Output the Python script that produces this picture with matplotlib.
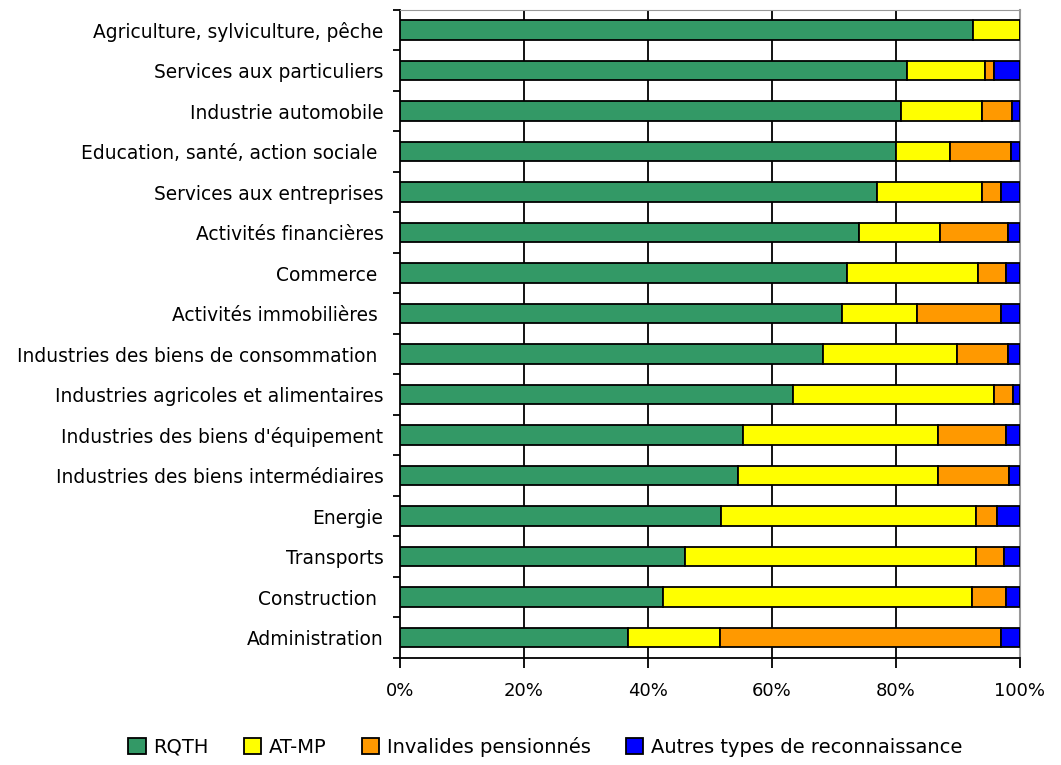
import matplotlib.pyplot as plt
import numpy as np
from matplotlib.ticker import FixedLocator, FuncFormatter

plt.rcParams['font.family'] = ['DejaVu Sans']

secteurs = [
    'Agriculture, sylviculture, pêche',
    'Services aux particuliers',
    'Industrie automobile',
    'Education, santé, action sociale ',
    'Services aux entreprises',
    'Activités financières',
    'Commerce ',
    'Activités immobilières ',
    'Industries des biens de consommation ',
    'Industries agricoles et alimentaires',
    "Industries des biens d'équipement",
    'Industries des biens intermédiaires',
    'Energie',
    'Transports',
    'Construction ',
    'Administration',
]

# parts en %
rqth = [92.4, 81.8, 80.8, 80.0, 76.9, 74.0, 72.1, 71.3, 68.3, 63.4, 55.4, 54.6, 51.7, 46.0, 42.5, 36.8]
at_mp = [7.6, 12.6, 13.1, 8.7, 17.0, 13.1, 21.1, 12.1, 21.5, 32.4, 31.4, 32.2, 41.2, 46.9, 49.7, 14.8]
invalides = [0.0, 1.4, 4.9, 9.8, 3.1, 11.0, 4.5, 13.5, 8.3, 3.1, 11.0, 11.5, 3.4, 4.6, 5.6, 45.4]
autres = [0.0, 4.2, 1.2, 1.5, 3.0, 1.9, 2.3, 3.1, 1.9, 1.1, 2.2, 1.7, 3.7, 2.5, 2.2, 3.0]

series = [
    ('RQTH', rqth, '#339966'),
    ('AT-MP', at_mp, '#FFFF00'),
    ('Invalides pensionnés', invalides, '#FF9900'),
    ('Autres types de reconnaissance', autres, '#0000FF'),
]

fig = plt.figure(figsize=(10.61, 7.65), dpi=100)
ax = fig.add_axes([0.377, 0.140, 0.5843, 0.847])

y = np.arange(len(secteurs))[::-1]
left = np.zeros(len(secteurs))
for nom, vals, col in series:
    vals = np.array(vals)
    ax.barh(y, vals, left=left, height=0.48, color=col, edgecolor='black',
            linewidth=1.3, label=nom, zorder=3)
    left += vals

ax.set_xlim(0, 100)
ax.set_ylim(-0.5, len(secteurs) - 0.5)

for v in [20, 40, 60, 80]:
    ax.axvline(v, color='black', linewidth=1.3, zorder=1)

ax.set_xticks([0, 20, 40, 60, 80, 100])
ax.xaxis.set_major_formatter(FuncFormatter(lambda v, p: f'{int(v)}%'))
ax.tick_params(axis='x', length=7, width=1.3, labelsize=13, pad=10, direction='out')

ax.set_yticks(y)
ax.set_yticklabels(secteurs, fontsize=13.4)
ax.tick_params(axis='y', which='major', length=0, pad=12)
ax.yaxis.set_minor_locator(FixedLocator(np.arange(-0.5, len(secteurs), 1)))
ax.tick_params(axis='y', which='minor', length=5, width=1.3, direction='out')

ax.spines['left'].set_linewidth(1.3)
ax.spines['bottom'].set_linewidth(1.3)
ax.spines['right'].set_color('#999999')
ax.spines['top'].set_color('#999999')
ax.spines['right'].set_linewidth(1.5)

fig.legend(loc='lower center', bbox_to_anchor=(0.514, -0.012), ncol=4, frameon=False,
           fontsize=14, handlelength=0.9, handleheight=0.9, handletextpad=0.4,
           columnspacing=1.8)

fig.savefig('out.png', dpi=100)
